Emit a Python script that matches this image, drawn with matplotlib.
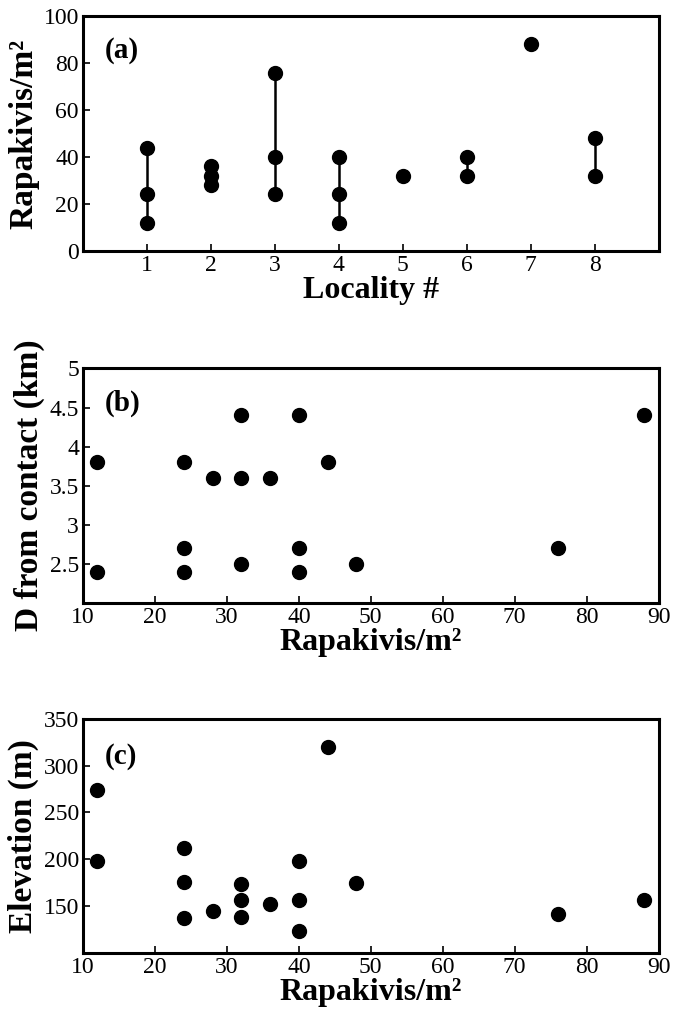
import numpy as np
import matplotlib
matplotlib.use('Agg')
import matplotlib.pyplot as plt

plt.rcParams['font.family'] = ['Liberation Serif', 'DejaVu Serif']

# panel (a): rapakivis per m2 at each locality
locality = [1, 1, 1, 2, 2, 2, 3, 3, 3, 4, 4, 4, 5, 6, 6, 7, 8, 8]
rapakivis_a = [12, 24, 44, 28, 32, 36, 24, 40, 76, 12, 24, 40, 32, 32, 40, 88, 32, 48]

# panels (b) and (c)
rapakivis = [12, 12, 24, 24, 24, 28, 32, 32, 32, 36, 40, 40, 40, 44, 48, 76, 88]
dist_contact = [3.8, 2.4, 3.8, 2.7, 2.4, 3.6, 4.4, 3.6, 2.5, 3.6, 4.4, 2.7, 2.4, 3.8, 2.5, 2.7, 4.4]
rapakivis_c = [12, 12, 24, 24, 24, 28, 32, 32, 32, 36, 40, 40, 40, 44, 48, 76, 88]
elevation = [274, 198, 212, 176, 137, 145, 174, 157, 139, 152, 198, 157, 124, 320, 175, 142, 157]

fig = plt.figure(figsize=(6.81, 10.15), dpi=100)
L, W, H = 0.122, 0.845, 0.231
ax1 = fig.add_axes([L, 0.753, W, H])
ax2 = fig.add_axes([L, 0.406, W, H])
ax3 = fig.add_axes([L, 0.061, W, H])

xlab = dict(fontsize=23, fontweight='bold', labelpad=0)
ylab = dict(fontsize=24, fontweight='bold', labelpad=3)
ms = 10

# (a) vertical range lines + dots
loc = np.array(locality)
ra = np.array(rapakivis_a)
for k in np.unique(loc):
    v = ra[loc == k]
    if v.max() > v.min():
        ax1.plot([k, k], [v.min(), v.max()], color='k', lw=1.8, zorder=2)
ax1.plot(loc, ra, 'o', color='k', ms=ms, zorder=3)
ax1.set_xlim(0, 9)
ax1.set_ylim(0, 100)
ax1.set_xticks(range(1, 9))
ax1.set_yticks(range(0, 101, 20))
ax1.set_xlabel('Locality #', **xlab)
ax1.set_ylabel('Rapakivis/m²', **ylab)
ax1.text(0.038, 0.855, '(a)', transform=ax1.transAxes, fontsize=21,
         fontweight='bold', va='center', ha='left')

# (b)
ax2.plot(rapakivis, dist_contact, 'o', color='k', ms=ms)
ax2.set_xlim(10, 90)
ax2.set_ylim(2, 5)
ax2.set_yticks([2.5, 3, 3.5, 4, 4.5, 5])
ax2.set_yticklabels(['2.5', '3', '3.5', '4', '4.5', '5'])
ax2.set_xticks(range(10, 91, 10))
ax2.set_xlabel('Rapakivis/m²', **xlab)
ax2.set_ylabel('D from contact (km)', **ylab)
ax2.text(0.038, 0.85, '(b)', transform=ax2.transAxes, fontsize=21,
         fontweight='bold', va='center', ha='left')

# (c)
ax3.plot(rapakivis_c, elevation, 'o', color='k', ms=ms)
ax3.set_xlim(10, 90)
ax3.set_ylim(100, 350)
ax3.set_yticks(range(150, 351, 50))
ax3.set_xticks(range(10, 91, 10))
ax3.set_xlabel('Rapakivis/m²', **xlab)
ax3.set_ylabel('Elevation (m)', **ylab)
ax3.text(0.038, 0.84, '(c)', transform=ax3.transAxes, fontsize=21,
         fontweight='bold', va='center', ha='left')

for ax in (ax1, ax2, ax3):
    for s in ax.spines.values():
        s.set_linewidth(2.2)
    ax.tick_params(direction='in', length=5, width=1.2, labelsize=17, pad=3)

fig.savefig('out.png', dpi=100)
